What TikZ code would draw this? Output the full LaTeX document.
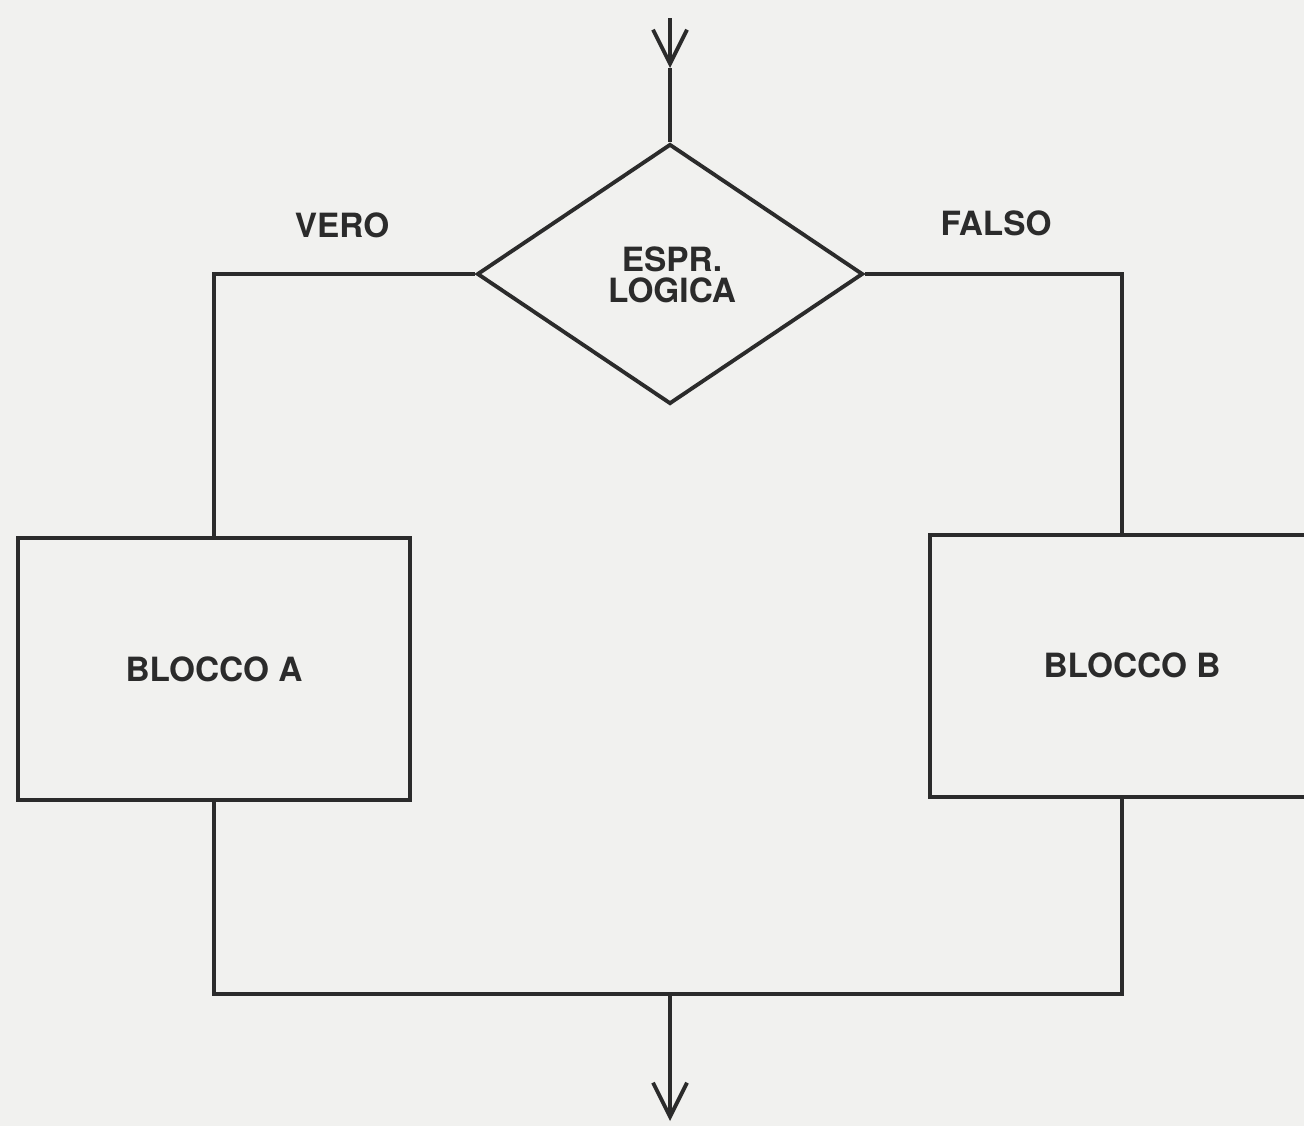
\documentclass[tikz,border=0pt]{standalone}
\usepackage{fontspec}
\setmainfont{TeX Gyre Heros}
\usetikzlibrary{shapes.geometric,arrows.meta}
\definecolor{paper}{HTML}{F1F1EF}
\definecolor{ink}{HTML}{2B2B2B}
\tikzset{
  wire/.style={draw=ink, line width=2.2pt, line join=miter},
  vtip/.style={-{Straight Barb[length=0.68cm,width=0.68cm,line width=2.2pt]}},
  lbl/.style={text=ink, font=\fontsize{19}{21}\selectfont\bfseries, align=center, inner sep=0pt},
  decision/.style={diamond, wire, inner sep=0pt, minimum width=7.72cm, minimum height=5.2cm},
  blockbox/.style={rectangle, wire, inner sep=0pt, minimum width=7.84cm, minimum height=5.24cm},
}
\begin{document}
\begin{tikzpicture}[x=0.02cm,y=-0.02cm]
  % page
  \fill[paper] (0,0) rectangle (1304,1126);
  \useasboundingbox (0,0) rectangle (1304,1126);
  \clip (0,0) rectangle (1304,1126);

  % decision and the two blocks
  \node[decision] (d) at (670,274) {};
  \node[lbl] (dt) at (672,275) {ESPR.\\[-3pt]LOGICA};
  \node[blockbox] (A) at (214,669) {};
  \node[lbl] at (A.center) {BLOCCO A};
  \node[blockbox, minimum width=7.68cm] (B) at (1122,666) {};
  \node[lbl] at (1132,665) {BLOCCO B};

  % branch labels
  \node[lbl] (vero) at (342,225) {VERO};
  \node[lbl] (falso) at (996,223) {FALSO};

  % entry and exit points
  \coordinate (in) at (670,18);
  \coordinate (inmid) at (670,68);
  \coordinate (j) at (670,994);
  \coordinate (out) at (670,1121);

  % entry arrow
  \draw[wire, vtip] (in) -- (inmid);
  \draw[wire] (inmid) -- (d.north);

  % branches
  \draw[wire] (d.west) -| (A.north);
  \draw[wire] (d.east) -| (B.north);

  % merge and exit
  \draw[wire] (A.south) |- (j) -| (B.south);
  \draw[wire, vtip] (j) -- (out);
\end{tikzpicture}
\end{document}
